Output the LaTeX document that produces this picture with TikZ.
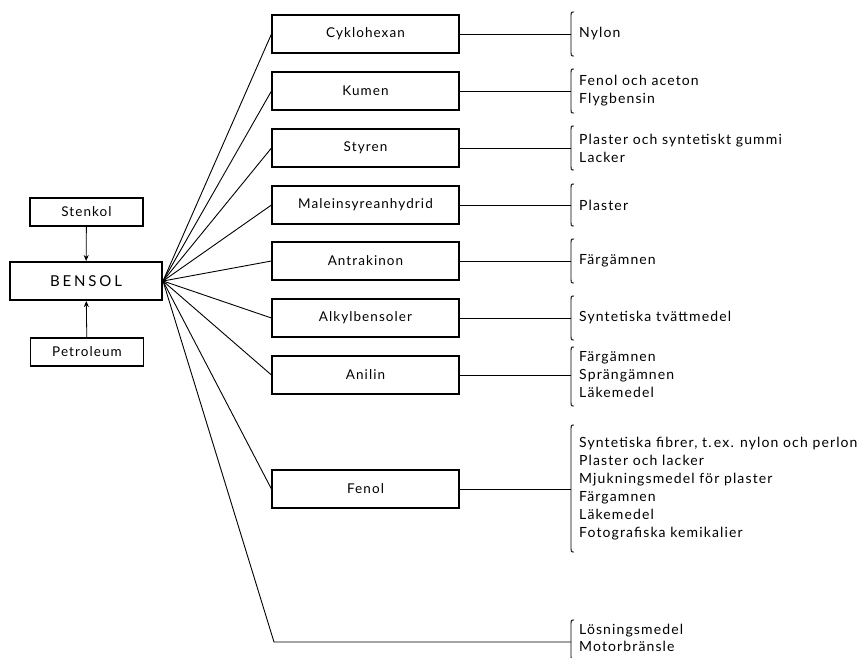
\documentclass[tikz,border=0pt]{standalone}
\usepackage{fontspec}
\setmainfont[LetterSpace=8]{Lato}
\newfontfamily\spacedfont[LetterSpace=19]{Lato}
\usetikzlibrary{arrows.meta}

\tikzset{
  prodbox/.style={draw, line width=1.1pt, minimum width=187pt, minimum height=38pt,
    inner sep=0pt, font=\fontsize{13.5}{15}\selectfont},
  srcbox/.style={draw, line width=1.1pt, minimum width=113pt, minimum height=28pt,
    inner sep=0pt, font=\fontsize{13.5}{15}\selectfont},
  hubbox/.style={draw, line width=2pt, minimum width=152pt, minimum height=38pt,
    inner sep=0pt, font=\fontsize{15}{17}\spacedfont},
  uselist/.style={anchor=west, align=left, inner sep=0pt,
    font=\fontsize{14}{18}\selectfont},
  link/.style={line width=0.9pt},
  feed/.style={line width=0.8pt, -{Stealth[length=6pt,width=5pt]}},
  brc/.style={line width=0.9pt}
}

% left curly bracket at x, from top to bottom
\newcommand\usebrace[3]{%
  \draw[brc] (#1+3,#2) .. controls (#1,#2) .. (#1,#2+6) -- (#1,#3-6)
    .. controls (#1,#3) .. (#1+3,#3);}

\begin{document}
\begin{tikzpicture}[x=1pt,y=-1pt]
\useasboundingbox (0,0) rectangle (866,657);

% raw materials and benzene
\node[srcbox] (stenkol) at (86.5,212) {Stenkol};
\node[hubbox] (bensol) at (86,281) {BENSOL};
\node[srcbox] (petroleum) at (87,352) {Petroleum};
\draw[feed] (stenkol) -- (bensol);
\draw[feed] (petroleum) -- (bensol);

% intermediate products
\node[prodbox] (p1) at (365.5,34) {Cyklohexan};
\node[prodbox] (p2) at (365.5,91) {Kumen};
\node[prodbox] (p3) at (365.5,148) {Styren};
\node[prodbox] (p4) at (365.5,205) {Maleinsyreanhydrid};
\node[prodbox] (p5) at (365.5,261) {Antrakinon};
\node[prodbox] (p6) at (365.5,318) {Alkylbensoler};
\node[prodbox] (p7) at (365.5,375) {Anilin};
\node[prodbox] (p8) at (365.5,489) {Fenol};
\coordinate (p9) at (274,642);

% bracket junctions
\coordinate (j1) at (571,34);
\coordinate (j2) at (571,91);
\coordinate (j3) at (571,148);
\coordinate (j4) at (571,205);
\coordinate (j5) at (571,261);
\coordinate (j6) at (571,318);
\coordinate (j7) at (571,375);
\coordinate (j8) at (571,489);
\coordinate (j9) at (571,642);

% fan of connectors from benzene
\foreach \i in {1,...,8} {
  \draw[link] (bensol.east) -- (p\i.west);
  \draw[link] (p\i.east) -- (j\i);
}
\draw[link] (bensol.east) -- (p9) -- (j9);

% brackets
\usebrace{571}{12}{56}
\usebrace{571}{69}{113}
\usebrace{571}{126}{170}
\usebrace{571}{184}{226}
\usebrace{571}{239}{283}
\usebrace{571}{296}{340}
\usebrace{571}{347}{406}
\usebrace{571}{425}{552}
\usebrace{571}{620}{660}

% end uses
\node[uselist] (u1) at (579,34) {Nylon};
\node[uselist] (u2) at (579,91) {Fenol och aceton\\Flygbensin};
\node[uselist] (u3) at (579,148) {Plaster och syntetiskt gummi\\Lacker};
\node[uselist] (u4) at (579,205) {Plaster};
\node[uselist] (u5) at (579,261) {Färgämnen};
\node[uselist] (u6) at (579,318) {Syntetiska tvättmedel};
\node[uselist] (u7) at (579,375) {Färgämnen\\Sprängämnen\\Läkemedel};
\node[uselist] (u8) at (579,489) {Syntetiska fibrer, t.\,ex. nylon och perlon\\Plaster och lacker\\Mjukningsmedel för plaster\\Färgamnen\\Läkemedel\\Fotografiska kemikalier};
\node[uselist, font=\fontsize{14}{17}\selectfont] (u9) at (579,638) {Lösningsmedel\\Motorbränsle};
\end{tikzpicture}
\end{document}
